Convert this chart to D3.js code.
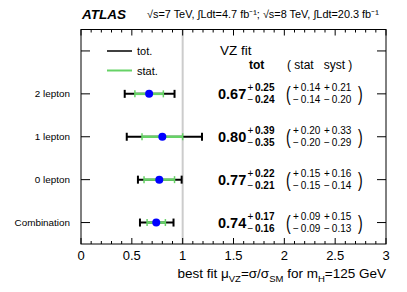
<!DOCTYPE html>
<html><head><meta charset="utf-8">
<script src="https://cdn.jsdelivr.net/npm/d3@7"></script>
<style>body{margin:0;background:#fff}svg{display:block;font-family:"Liberation Sans",Arial,Helvetica,sans-serif}text{white-space:pre}</style>
</head><body><svg id="c" width="407" height="292"></svg>
<script>
const categories = ["2 lepton","1 lepton","0 lepton","Combination"];
const mu = [0.67,0.80,0.77,0.74];
const totUp = [0.25,0.39,0.22,0.17];
const totDn = [0.24,0.35,0.21,0.16];
const statUp = [0.14,0.20,0.15,0.09];
const statDn = [0.14,0.20,0.15,0.09];
const systUp = [0.21,0.33,0.16,0.15];
const systDn = [0.20,0.29,0.14,0.13];
const xTicks = [0,0.5,1,1.5,2,2.5,3];
const yPos = [3.5,2.5,1.5,0.5];
const yTicks = [0.5,1.5,2.5,3.5,4.5];

const svg = d3.select("#c");
const L=81,R=386,T=29.5,B=244;
const x = d3.scaleLinear().domain([0,3]).range([L,R]);
const y = d3.scaleLinear().domain([0,5]).range([B,T]);
const green = "#66d266";

svg.append("line").attr("x1",x(1)).attr("x2",x(1)).attr("y1",T).attr("y2",B)
  .attr("stroke","#cccccc").attr("stroke-width",2);

svg.append("rect").attr("x",L).attr("y",T).attr("width",R-L).attr("height",B-T)
  .attr("fill","none").attr("stroke","#000").attr("stroke-width",1);

const minor = d3.range(0,3.0001,0.1);
minor.forEach(v=>{
  const major = Math.abs(v*2-Math.round(v*2))<1e-6;
  const len = major?6:3;
  svg.append("line").attr("x1",x(v)).attr("x2",x(v)).attr("y1",B).attr("y2",B-len).attr("stroke","#000");
  svg.append("line").attr("x1",x(v)).attr("x2",x(v)).attr("y1",T).attr("y2",T+len).attr("stroke","#000");
});
svg.append("g").selectAll("text").data(xTicks).join("text")
  .attr("x",d=>x(d)).attr("y",260).attr("text-anchor","middle")
  .attr("font-size",13).text(d=>d);

yTicks.forEach(v=>{
  svg.append("line").attr("x1",L).attr("x2",L+9).attr("y1",y(v)).attr("y2",y(v)).attr("stroke","#000");
  svg.append("line").attr("x1",R).attr("x2",R-9).attr("y1",y(v)).attr("y2",y(v)).attr("stroke","#000");
});
svg.append("g").selectAll("text").data(categories).join("text")
  .attr("x",70).attr("y",(d,i)=>y(yPos[i])+3.5).attr("text-anchor","end")
  .attr("font-size",9.9).text(d=>d);

categories.forEach((c,i)=>{
  const yy=y(yPos[i]);
  const lo=x(mu[i]-totDn[i]), hi=x(mu[i]+totUp[i]);
  svg.append("line").attr("x1",lo).attr("x2",hi).attr("y1",yy).attr("y2",yy).attr("stroke","#000").attr("stroke-width",2);
  [lo,hi].forEach(p=>svg.append("line").attr("x1",p).attr("x2",p).attr("y1",yy-4).attr("y2",yy+4).attr("stroke","#000").attr("stroke-width",2));
  const slo=x(mu[i]-statDn[i]), shi=x(mu[i]+statUp[i]);
  svg.append("line").attr("x1",slo).attr("x2",shi).attr("y1",yy).attr("y2",yy).attr("stroke",green).attr("stroke-width",2.5);
  [slo,shi].forEach(p=>svg.append("line").attr("x1",p).attr("x2",p).attr("y1",yy-3.5).attr("y2",yy+3.5).attr("stroke",green).attr("stroke-width",1.5));
  svg.append("circle").attr("cx",x(mu[i])).attr("cy",yy).attr("r",4).attr("fill","#0000ff");
});

const f = v=>v.toFixed(2);
categories.forEach((c,i)=>{
  const yy=y(yPos[i]);
  svg.append("text").attr("x",218).attr("y",yy+5.5).attr("font-size",14.5).attr("font-weight","bold").text(f(mu[i]));
  svg.append("text").attr("x",247.5).attr("y",yy-2.5).attr("font-size",10).text("+");
  svg.append("text").attr("x",255).attr("y",yy-2.5).attr("font-size",10).attr("font-weight","bold").text(f(totUp[i]));
  svg.append("text").attr("x",247.5).attr("y",yy+9.5).attr("font-size",10).text("\u2212");
  svg.append("text").attr("x",255).attr("y",yy+9.5).attr("font-size",10).attr("font-weight","bold").text(f(totDn[i]));
  svg.append("text").attr("x",286).attr("y",yy+7).attr("font-size",20).attr("transform",`translate(${286},${yy}) scale(0.7,1) translate(${-286},${-yy})`).text("(");
  svg.append("text").attr("x",293).attr("y",yy-2.5).attr("font-size",10).text("+\u2009"+f(statUp[i]));
  svg.append("text").attr("x",324).attr("y",yy-2.5).attr("font-size",10).text("+\u2009"+f(systUp[i]));
  svg.append("text").attr("x",293).attr("y",yy+9.5).attr("font-size",10).text("\u2212\u2009"+f(statDn[i]));
  svg.append("text").attr("x",324).attr("y",yy+9.5).attr("font-size",10).text("\u2212\u2009"+f(systDn[i]));
  svg.append("text").attr("x",358).attr("y",yy+7).attr("font-size",20).attr("transform",`translate(${358},${yy}) scale(0.7,1) translate(${-358},${-yy})`).text(")");
});

svg.append("text").attr("x",220).attr("y",55).attr("font-size",13.5).text("VZ fit");
svg.append("text").attr("x",249).attr("y",69).attr("font-size",12).attr("font-weight","bold").text("tot");
svg.append("text").attr("x",287).attr("y",69).attr("font-size",12).text("( stat   syst )");

svg.append("line").attr("x1",107).attr("x2",132).attr("y1",51).attr("y2",51).attr("stroke","#000").attr("stroke-width",1.5);
svg.append("text").attr("x",137).attr("y",55).attr("font-size",11).text("tot.");
svg.append("line").attr("x1",107).attr("x2",132).attr("y1",70.5).attr("y2",70.5).attr("stroke",green).attr("stroke-width",2);
svg.append("text").attr("x",137).attr("y",74.5).attr("font-size",11).text("stat.");

svg.append("text").attr("x",82).attr("y",18.5).attr("font-size",13.5).attr("font-weight","bold").attr("font-style","italic").text("ATLAS");
svg.append("text").attr("x",147).attr("y",18).attr("font-size",10.9)
  .text("\u221As=7 TeV, \u222BLdt=4.7 fb\u207B\u00B9; \u221As=8 TeV, \u222BLdt=20.3 fb\u207B\u00B9");

const at = svg.append("text").attr("x",386).attr("y",278).attr("text-anchor","end").attr("font-size",13.5);
at.append("tspan").text("best fit \u03BC");
at.append("tspan").attr("font-size",9.5).attr("dy",3.5).text("VZ");
at.append("tspan").attr("dy",-3.5).text("=\u03C3/\u03C3");
at.append("tspan").attr("font-size",9.5).attr("dy",3.5).text("SM");
at.append("tspan").attr("dy",-3.5).text(" for m");
at.append("tspan").attr("font-size",9.5).attr("dy",3.5).text("H");
at.append("tspan").attr("dy",-3.5).text("=125 GeV");
</script></body></html>
